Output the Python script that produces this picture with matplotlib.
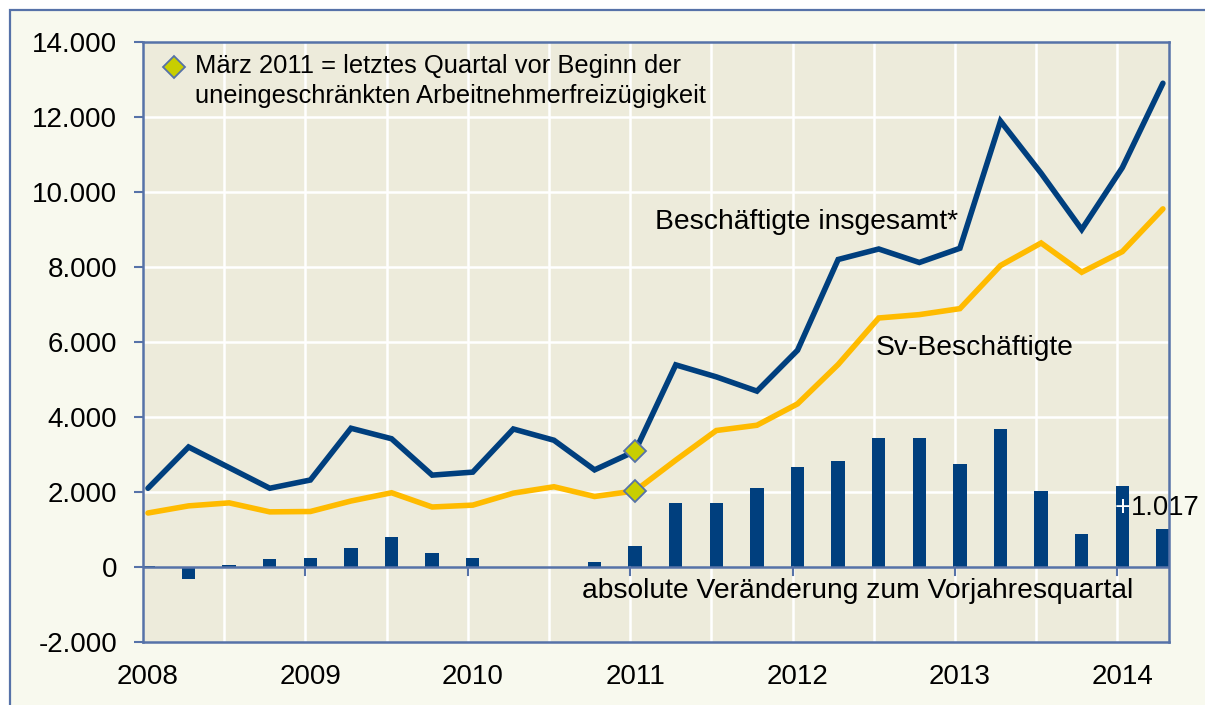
import numpy as np
import matplotlib.pyplot as plt
from matplotlib.patches import Rectangle

plt.rcParams['font.family'] = ['Liberation Sans', 'DejaVu Sans']

# Quarterly values, Q1 2008 .. Q2 2014
gesamt = [2100, 3200, 2650, 2100, 2320, 3700, 3420, 2450, 2530, 3680, 3380, 2590, 3090,
          5390, 5070, 4690, 5780, 8200, 8480, 8120, 8500, 11890, 10500, 9000, 10650, 12900]
sv = [1440, 1630, 1710, 1470, 1480, 1760, 1980, 1600, 1650, 1970, 2140, 1880, 2030,
      2850, 3640, 3780, 4350, 5400, 6640, 6730, 6890, 8040, 8640, 7860, 8410, 9550]
veraenderung = [40, -320, 50, 210, 230, 500, 800, 370, 230, -20, -30, 130, 560,
                1700, 1700, 2100, 2680, 2830, 3440, 3450, 2740, 3690, 2030, 870, 2170, 1017]
year_labels = ['2008', '2009', '2010', '2011', '2012', '2013', '2014']
ytick_values = [-2000, 0, 2000, 4000, 6000, 8000, 10000, 12000, 14000]
ytick_labels = ['-2.000', '0', '2.000', '4.000', '6.000', '8.000', '10.000', '12.000', '14.000']
marker_index = 12  # März 2011

# colours
dark_blue = '#003F7E'
gold = '#FFBB00'
frame_blue = '#5672A8'
plot_bg = '#EDEBDB'
outer_bg = '#F8F9EE'
lime = '#C8CE00'

fig = plt.figure(figsize=(12.05, 7.05), dpi=100)
fig.patch.set_facecolor('white')

# outer frame of the graphic
frame = Rectangle((10 / 1205, -0.1), 1.2, 1 - 10 / 705 + 0.1, transform=fig.transFigure,
                  facecolor=outer_bg, edgecolor=frame_blue, linewidth=1.6, zorder=-1)
fig.add_artist(frame)

ax = fig.add_axes([143 / 1205, 1 - 642 / 705, 1026 / 1205, 600 / 705])
ax.set_zorder(1)
ax.set_facecolor(plot_bg)

x = np.arange(len(gesamt))
off = 0.123  # ticks/grid sit slightly left of the quarter points

ax.set_xlim(-off, 25.15)
ax.set_ylim(-2000, 14000)

# white grid
for k in range(1, 13):
    ax.axvline(2 * k - off, color='white', lw=1.8, zorder=0.5)
for v in ytick_values[2:-1]:
    ax.axhline(v, color='white', lw=1.8, zorder=0.5)

# bars + lines
ax.bar(x, veraenderung, width=0.33, color=dark_blue, zorder=2)
ax.axhline(0, color=frame_blue, lw=1.8, zorder=2.5)
for k in range(1, 7):
    ax.plot([4 * k - off, 4 * k - off], [0, -215], color=frame_blue, lw=1.5, zorder=2.5, clip_on=False)

ax.plot(x, gesamt, color=dark_blue, lw=4.0, solid_joinstyle='miter', solid_capstyle='round', zorder=3)
ax.plot(x, sv, color=gold, lw=4.0, solid_joinstyle='miter', solid_capstyle='round', zorder=3)

# diamonds at March 2011
ax.plot([marker_index, marker_index], [gesamt[marker_index], sv[marker_index]], ls='none', marker='D',
        ms=11.5, mfc=lime, mec=frame_blue, mew=1.3, zorder=4)

# axes styling
for s in ax.spines.values():
    s.set_color(frame_blue)
    s.set_linewidth(1.8)
ax.set_yticks(ytick_values)
ax.set_yticklabels(ytick_labels)
ax.tick_params(axis='y', direction='out', length=6.5, width=1.5, color=frame_blue, pad=12, labelsize=20)
ax.set_xticks(np.arange(0, 25, 4))
ax.set_xticklabels(year_labels)
ax.tick_params(axis='x', length=0, pad=16, labelsize=20)

# legend-like note
ax.plot([0.64], [13333], ls='none', marker='D', ms=11.5, mfc=lime, mec=frame_blue, mew=1.3, clip_on=False, zorder=4)
ax.text(1.16, 13173, 'März 2011 = letztes Quartal vor Beginn der', fontsize=18.4, va='baseline')
ax.text(1.16, 12373, 'uneingeschränkten Arbeitnehmerfreizügigkeit', fontsize=18.4, va='baseline')

# series labels
ax.text(12.49, 9013, 'Beschäftigte insgesamt*', fontsize=20.3, va='baseline')
ax.text(17.93, 5653, 'Sv-Beschäftigte', fontsize=20.3, va='baseline')
ax.text(10.69, -827, 'absolute Veränderung zum Vorjahresquartal', fontsize=20.3, va='baseline')

# value label for last bar
ax.text(24.21, 1387, '+', fontsize=19.7, color='white', ha='right', va='baseline', zorder=5)
ax.text(24.21, 1387, '1.017', fontsize=19.7, color='black', ha='left', va='baseline', clip_on=False, zorder=5)

fig.savefig('out.png', dpi=100, facecolor=fig.get_facecolor())
